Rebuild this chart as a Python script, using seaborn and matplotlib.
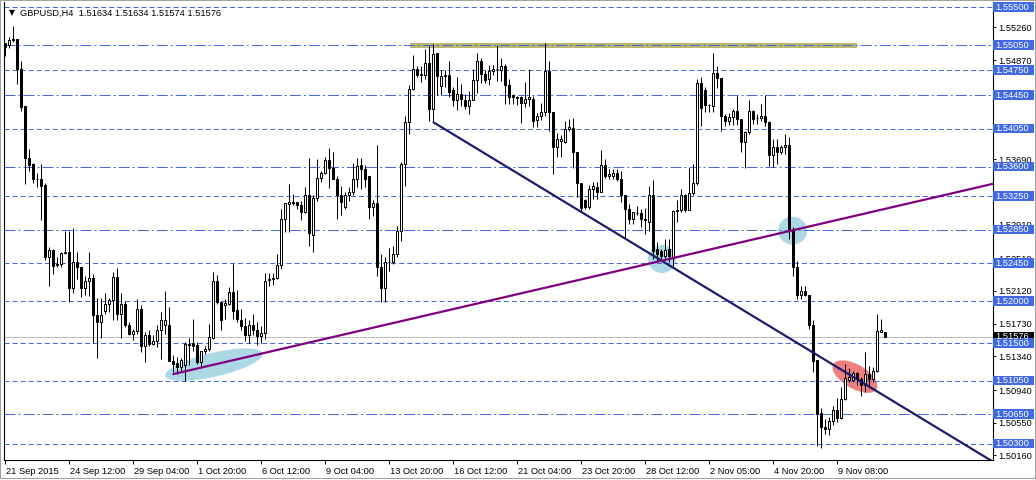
import matplotlib
matplotlib.use("Agg")
import numpy as np
import pandas as pd
import seaborn as sns
import matplotlib.pyplot as plt
import matplotlib.transforms as mtransforms
from matplotlib.patches import Ellipse, Rectangle

# ---- data (GBPUSD H4) ----
symbol = "GBPUSD,H4"

opens = [
    1.5507, 1.5505, 1.5511, 1.5512, 1.5477, 1.5432, 1.5371, 1.5363, 1.5345, 1.5345,
    1.5338, 1.5253, 1.5261, 1.5243, 1.5244, 1.5257, 1.5259, 1.5216, 1.5246, 1.5240,
    1.5216, 1.5224, 1.5228, 1.5183, 1.5175, 1.5188, 1.5197, 1.5201, 1.5229, 1.5184,
    1.5197, 1.5172, 1.5161, 1.5164, 1.5191, 1.5146, 1.5160, 1.5149, 1.5152, 1.5165,
    1.5172, 1.5172, 1.5129, 1.5126, 1.5122, 1.5124, 1.5148, 1.5150, 1.5148, 1.5127,
    1.5140, 1.5143, 1.5156, 1.5224, 1.5199, 1.5195, 1.5197, 1.5211, 1.5189, 1.5178,
    1.5170, 1.5160, 1.5172, 1.5165, 1.5158, 1.5162, 1.5225, 1.5226, 1.5227, 1.5243,
    1.5298, 1.5316, 1.5317, 1.5318, 1.5314, 1.5306, 1.5326, 1.5279, 1.5323, 1.5347,
    1.5353, 1.5368, 1.5359, 1.5345, 1.5326, 1.5312, 1.5326, 1.5330, 1.5346, 1.5362,
    1.5357, 1.5349, 1.5312, 1.5317, 1.5241, 1.5216, 1.5246, 1.5247, 1.5256, 1.5283,
    1.5363, 1.5413, 1.5453, 1.5476, 1.5469, 1.5469, 1.5484, 1.5429, 1.5495, 1.5456,
    1.5468, 1.5469, 1.5451, 1.5440, 1.5447, 1.5440, 1.5432, 1.5440, 1.5463, 1.5486,
    1.5470, 1.5464, 1.5474, 1.5476, 1.5475, 1.5480, 1.5457, 1.5445, 1.5443, 1.5443,
    1.5436, 1.5441, 1.5441, 1.5416, 1.5420, 1.5425, 1.5474, 1.5425, 1.5383, 1.5391,
    1.5389, 1.5405, 1.5406, 1.5378, 1.5341, 1.5320, 1.5312, 1.5334, 1.5336, 1.5330,
    1.5362, 1.5349, 1.5349, 1.5353, 1.5345, 1.5326, 1.5310, 1.5298, 1.5305, 1.5305,
    1.5298, 1.5294, 1.5326, 1.5262, 1.5260, 1.5254, 1.5262, 1.5252, 1.5307, 1.5308,
    1.5326, 1.5309, 1.5329, 1.5341, 1.5460, 1.5451, 1.5434, 1.5432, 1.5472, 1.5466,
    1.5420, 1.5415, 1.5419, 1.5426, 1.5417, 1.5389, 1.5402, 1.5426, 1.5418, 1.5418,
    1.5420, 1.5413, 1.5374, 1.5384, 1.5378, 1.5383, 1.5386, 1.5286, 1.5240, 1.5207,
    1.5212, 1.5207, 1.5171, 1.5130, 1.5067, 1.5050, 1.5048, 1.5057, 1.5070, 1.5061,
    1.5083, 1.5106, 1.5106, 1.5114, 1.5107, 1.5100, 1.5113, 1.5107, 1.5117, 1.5163,
    1.51634,
]
highs = [
    1.5508, 1.5515, 1.5528, 1.5512, 1.5486, 1.5432, 1.5381, 1.5364, 1.5353, 1.5363,
    1.5341, 1.5264, 1.5262, 1.5252, 1.5259, 1.5284, 1.5284, 1.5287, 1.5258, 1.5240,
    1.5230, 1.5259, 1.5232, 1.5204, 1.5204, 1.5209, 1.5204, 1.5235, 1.5239, 1.5210,
    1.5200, 1.5175, 1.5167, 1.5203, 1.5195, 1.5163, 1.5165, 1.5159, 1.5171, 1.5187,
    1.5212, 1.5193, 1.5136, 1.5133, 1.5132, 1.5151, 1.5156, 1.5179, 1.5151, 1.5141,
    1.5146, 1.5173, 1.5235, 1.5231, 1.5200, 1.5203, 1.5217, 1.5244, 1.5213, 1.5190,
    1.5180, 1.5178, 1.5185, 1.5175, 1.5170, 1.5234, 1.5234, 1.5234, 1.5256, 1.5310,
    1.5317, 1.5339, 1.5328, 1.5318, 1.5319, 1.5336, 1.5370, 1.5326, 1.5369, 1.5355,
    1.5372, 1.5382, 1.5378, 1.5349, 1.5337, 1.5330, 1.5336, 1.5364, 1.5371, 1.5371,
    1.5362, 1.5349, 1.5320, 1.5386, 1.5256, 1.5252, 1.5263, 1.5266, 1.5290, 1.5366,
    1.5420, 1.5457, 1.5493, 1.5480, 1.5480, 1.5500, 1.5504, 1.5506, 1.5495, 1.5475,
    1.5475, 1.5486, 1.5455, 1.5467, 1.5459, 1.5447, 1.5450, 1.5476, 1.5496, 1.5490,
    1.5475, 1.5481, 1.5481, 1.5505, 1.5489, 1.5482, 1.5465, 1.5447, 1.5444, 1.5444,
    1.5461, 1.5476, 1.5444, 1.5424, 1.5436, 1.5508, 1.5486, 1.5425, 1.5400, 1.5398,
    1.5415, 1.5417, 1.5418, 1.5378, 1.5341, 1.5322, 1.5338, 1.5342, 1.5342, 1.5380,
    1.5369, 1.5357, 1.5357, 1.5357, 1.5355, 1.5326, 1.5316, 1.5306, 1.5313, 1.5310,
    1.5311, 1.5337, 1.5344, 1.5270, 1.5262, 1.5274, 1.5274, 1.5308, 1.5320, 1.5334,
    1.5328, 1.5358, 1.5363, 1.5465, 1.5467, 1.5455, 1.5435, 1.5496, 1.5480, 1.5466,
    1.5423, 1.5424, 1.5429, 1.5444, 1.5417, 1.5403, 1.5439, 1.5428, 1.5423, 1.5435,
    1.5445, 1.5414, 1.5393, 1.5393, 1.5386, 1.5399, 1.5395, 1.5288, 1.5248, 1.5218,
    1.5218, 1.5207, 1.5177, 1.5130, 1.5072, 1.5060, 1.5062, 1.5075, 1.5084, 1.5098,
    1.5125, 1.5120, 1.5117, 1.5116, 1.5110, 1.5139, 1.5123, 1.5122, 1.5185, 1.5179,
    1.51634,
]
lows = [
    1.5492, 1.5502, 1.5509, 1.5459, 1.5427, 1.5339, 1.5355, 1.5341, 1.5336, 1.5296,
    1.5249, 1.5218, 1.5232, 1.5240, 1.5240, 1.5256, 1.5199, 1.5210, 1.5226, 1.5205,
    1.5207, 1.5206, 1.5150, 1.5132, 1.5156, 1.5184, 1.5187, 1.5177, 1.5177, 1.5156,
    1.5169, 1.5160, 1.5154, 1.5161, 1.5139, 1.5127, 1.5146, 1.5148, 1.5145, 1.5131,
    1.5161, 1.5129, 1.5115, 1.5113, 1.5115, 1.5105, 1.5124, 1.5140, 1.5125, 1.5123,
    1.5137, 1.5141, 1.5155, 1.5197, 1.5166, 1.5179, 1.5195, 1.5179, 1.5175, 1.5165,
    1.5152, 1.5150, 1.5160, 1.5148, 1.5150, 1.5155, 1.5218, 1.5219, 1.5226, 1.5238,
    1.5282, 1.5282, 1.5315, 1.5310, 1.5296, 1.5305, 1.5265, 1.5259, 1.5319, 1.5342,
    1.5351, 1.5335, 1.5345, 1.5298, 1.5303, 1.5310, 1.5319, 1.5326, 1.5336, 1.5333,
    1.5336, 1.5298, 1.5301, 1.5230, 1.5199, 1.5199, 1.5236, 1.5244, 1.5252, 1.5272,
    1.5337, 1.5399, 1.5452, 1.5467, 1.5461, 1.5465, 1.5414, 1.5414, 1.5445, 1.5445,
    1.5455, 1.5443, 1.5432, 1.5428, 1.5432, 1.5429, 1.5423, 1.5439, 1.5448, 1.5460,
    1.5460, 1.5458, 1.5469, 1.5462, 1.5462, 1.5435, 1.5435, 1.5435, 1.5434, 1.5412,
    1.5431, 1.5432, 1.5407, 1.5407, 1.5416, 1.5421, 1.5403, 1.5351, 1.5372, 1.5372,
    1.5388, 1.5403, 1.5359, 1.5324, 1.5307, 1.5310, 1.5310, 1.5321, 1.5321, 1.5330,
    1.5347, 1.5345, 1.5345, 1.5343, 1.5318, 1.5276, 1.5292, 1.5292, 1.5302, 1.5288,
    1.5280, 1.5284, 1.5250, 1.5248, 1.5248, 1.5250, 1.5246, 1.5242, 1.5294, 1.5306,
    1.5306, 1.5309, 1.5326, 1.5338, 1.5409, 1.5425, 1.5425, 1.5425, 1.5454, 1.5403,
    1.5408, 1.5410, 1.5410, 1.5410, 1.5378, 1.5358, 1.5399, 1.5411, 1.5411, 1.5414,
    1.5408, 1.5361, 1.5360, 1.5363, 1.5375, 1.5375, 1.5274, 1.5230, 1.5203, 1.5203,
    1.5206, 1.5167, 1.5115, 1.5027, 1.5025, 1.5041, 1.5040, 1.5052, 1.5056, 1.5060,
    1.5082, 1.5104, 1.5104, 1.5100, 1.5087, 1.5092, 1.5096, 1.5103, 1.5115, 1.5163,
    1.51574,
]
closes = [
    1.5503, 1.5511, 1.5512, 1.5476, 1.5431, 1.5371, 1.5362, 1.5345, 1.5345, 1.5337,
    1.5253, 1.5261, 1.5242, 1.5244, 1.5257, 1.5259, 1.5216, 1.5246, 1.5240, 1.5216,
    1.5224, 1.5228, 1.5183, 1.5175, 1.5183, 1.5197, 1.5201, 1.5229, 1.5184, 1.5197,
    1.5171, 1.5161, 1.5164, 1.5191, 1.5146, 1.5160, 1.5149, 1.5152, 1.5165, 1.5177,
    1.5177, 1.5129, 1.5125, 1.5122, 1.5130, 1.5149, 1.5149, 1.5147, 1.5127, 1.5141,
    1.5143, 1.5157, 1.5224, 1.5199, 1.5177, 1.5198, 1.5211, 1.5188, 1.5179, 1.5170,
    1.5160, 1.5172, 1.5165, 1.5158, 1.5162, 1.5224, 1.5226, 1.5227, 1.5243, 1.5298,
    1.5317, 1.5318, 1.5318, 1.5314, 1.5306, 1.5326, 1.5281, 1.5323, 1.5347, 1.5353,
    1.5368, 1.5359, 1.5345, 1.5326, 1.5318, 1.5326, 1.5330, 1.5346, 1.5361, 1.5357,
    1.5346, 1.5312, 1.5317, 1.5241, 1.5216, 1.5246, 1.5247, 1.5256, 1.5283, 1.5363,
    1.5413, 1.5453, 1.5476, 1.5469, 1.5470, 1.5484, 1.5429, 1.5494, 1.5468, 1.5468,
    1.5469, 1.5449, 1.5440, 1.5447, 1.5441, 1.5432, 1.5440, 1.5463, 1.5486, 1.5470,
    1.5463, 1.5474, 1.5476, 1.5476, 1.5480, 1.5457, 1.5443, 1.5443, 1.5442, 1.5436,
    1.5441, 1.5443, 1.5415, 1.5420, 1.5425, 1.5474, 1.5425, 1.5383, 1.5393, 1.5393,
    1.5405, 1.5407, 1.5378, 1.5341, 1.5311, 1.5312, 1.5334, 1.5337, 1.5330, 1.5362,
    1.5349, 1.5351, 1.5353, 1.5345, 1.5326, 1.5310, 1.5298, 1.5306, 1.5305, 1.5298,
    1.5296, 1.5326, 1.5260, 1.5256, 1.5254, 1.5261, 1.5254, 1.5307, 1.5309, 1.5326,
    1.5309, 1.5329, 1.5341, 1.5460, 1.5430, 1.5434, 1.5433, 1.5472, 1.5466, 1.5420,
    1.5415, 1.5419, 1.5426, 1.5417, 1.5389, 1.5402, 1.5426, 1.5417, 1.5418, 1.5420,
    1.5413, 1.5374, 1.5384, 1.5378, 1.5383, 1.5386, 1.5286, 1.5240, 1.5207, 1.5212,
    1.5207, 1.5171, 1.5129, 1.5066, 1.5050, 1.5048, 1.5057, 1.5070, 1.5061, 1.5083,
    1.5108, 1.5109, 1.5114, 1.5107, 1.5100, 1.5113, 1.5107, 1.5117, 1.5164, 1.5165,
    1.51576,
]

date_labels = ["21 Sep 2015", "24 Sep 12:00", "29 Sep 04:00", "1 Oct 20:00",
               "6 Oct 12:00", "9 Oct 04:00", "13 Oct 20:00", "16 Oct 12:00",
               "21 Oct 04:00", "23 Oct 20:00", "28 Oct 12:00", "2 Nov 05:00",
               "4 Nov 20:00", "9 Nov 08:00"]
bars_per_label = 16

price_ticks = [1.55260, 1.54870, 1.54470, 1.54080, 1.53690, 1.53280, 1.52910,
               1.52510, 1.52120, 1.51730, 1.51340, 1.50940, 1.50550, 1.50160]

# horizontal levels drawn by hand on the chart
levels_dashdot = [1.5505, 1.5445, 1.5360, 1.5285, 1.5065]
levels_dash = [1.5550, 1.5475, 1.5405, 1.5325, 1.5245, 1.5200, 1.5150, 1.5105, 1.5030]

# resistance band (bars, prices)
band_bars = [101.2, 213.0]
band_prices = [1.55012, 1.55078]

# trend lines: two points each (bar, price)
down_bars = [107.1, 221.25]
down_prices = [1.5413, 1.5083]
up_bars = [42.1, 221.25]
up_prices = [1.5113, 1.53112]

# highlight marks: (bar, price, width px, height px, angle deg)
blue_marks = [(52.25, 1.51242, 100, 24, 13), (164.25, 1.52501, 28, 28, 0),
              (196.9, 1.52838, 29, 28, 0)]
red_marks = [(212.5, 1.51100, 50, 24, -30)]

# ---- style ----
sns.set_style("white")
plt.rcParams["font.family"] = ["Liberation Sans", "DejaVu Sans"]
plt.rcParams["lines.scale_dashes"] = False

level_blue = "#4169E1"
fs = 6.7
px = 0.72  # one pixel in points at dpi 100

fig = plt.figure(figsize=(10.36, 4.80), dpi=100)
ax = fig.add_axes([3.5 / 1036, 20 / 480, 989.5 / 1036, 458 / 480])
ax.set_xlim(-0.375, 247)
ax.set_ylim(1.50106, 1.55563)


def px_at(x, y, trans):
    # pixel-sized shape anchored at a data point
    return mtransforms.IdentityTransform() + mtransforms.ScaledTranslation(x, y, trans)


df = pd.DataFrame({"open": opens, "high": highs, "low": lows, "close": closes})
df["bar"] = np.arange(len(df))
up = df[df.close >= df.open]
dn = df[df.close < df.open]

# band + highlights (under everything)
ax.add_patch(Rectangle((band_bars[0], band_prices[0]), band_bars[1] - band_bars[0],
                       band_prices[1] - band_prices[0], fc="#BDB76B", ec="none", zorder=0.5))
for b, p, w, h, a in blue_marks:
    ax.add_patch(Ellipse((0, 0), w, h, angle=a, fc="#ADD8E6", ec="none", zorder=0.6,
                         transform=px_at(b, p, ax.transData)))
for b, p, w, h, a in red_marks:
    ax.add_patch(Ellipse((0, 0), w, h, angle=a, fc="#F08080", ec="none", zorder=0.6,
                         transform=px_at(b, p, ax.transData)))

# levels
for lv in levels_dashdot:
    ax.axhline(lv, color=level_blue, lw=px, dashes=(7.9, 2.2, 1.4, 2.2), zorder=1)
for lv in levels_dash:
    ax.axhline(lv, color=level_blue, lw=px, dashes=(3.6, 2.2), zorder=1)
ax.axhline(closes[-1], color="#C0C0C0", lw=px, zorder=1)

# candles: 1px wicks, 3px bodies (hollow when up)
ax.vlines(df.bar, df.low, df.high, color="black", lw=px, zorder=3)
ax.bar(up.bar, up.close - up.open, bottom=up.open, width=0.5, color="white",
       edgecolor="black", lw=px, zorder=3.5)
ax.bar(dn.bar, dn.open - dn.close, bottom=dn.close, width=0.5, color="black",
       edgecolor="black", lw=px, zorder=3.5)

# trend lines (rays to the right)
slope_dn = (down_prices[1] - down_prices[0]) / (down_bars[1] - down_bars[0])
slope_up = (up_prices[1] - up_prices[0]) / (up_bars[1] - up_bars[0])
sns.lineplot(x=[down_bars[0], 260], y=[down_prices[0], down_prices[0] + slope_dn * (260 - down_bars[0])],
             color="#1C1C6E", lw=1.6, ax=ax, zorder=4)
sns.lineplot(x=[up_bars[0], 260], y=[up_prices[0], up_prices[0] + slope_up * (260 - up_bars[0])],
             color="#800080", lw=1.6, ax=ax, zorder=4)

# axes look
for s in ["left", "bottom", "right"]:
    ax.spines[s].set_color("black")
    ax.spines[s].set_linewidth(0.8)
ax.spines["top"].set_visible(False)

ax.set_xticks(range(0, bars_per_label * len(date_labels), bars_per_label))
ax.set_xticklabels(date_labels)
ax.tick_params(axis="x", length=3, width=0.7, pad=2, labelsize=fs, colors="black", bottom=True)
shift = mtransforms.ScaledTranslation(1 / 100, 0, fig.dpi_scale_trans)
for lab in ax.get_xticklabels():
    lab.set_horizontalalignment("left")
    lab.set_transform(lab.get_transform() + shift)

ax.yaxis.tick_right()
ax.set_yticks(price_ticks)
ax.set_yticklabels([f"{v:.5f}" for v in price_ticks])
ax.tick_params(axis="y", length=2.2, width=0.7, pad=1.5, labelsize=fs, colors="black",
               right=True, left=False)
ax.set_xlabel("")
ax.set_ylabel("")

# price labels on the right axis
blend = mtransforms.blended_transform_factory(ax.transAxes, ax.transData)


def price_tag(val, fc):
    ax.add_patch(Rectangle((0, -4.5), 41, 9.5, fc=fc, ec="none", clip_on=False, zorder=6,
                           transform=px_at(1.0, val, blend)))
    ax.text(2, 0, f"{val:.5f}", color="white", fontsize=fs, ha="left", va="center",
            transform=px_at(1.0, val, blend), clip_on=False, zorder=7)


price_tag(closes[-1], "black")
for lv in sorted(levels_dashdot + levels_dash, reverse=True):
    price_tag(lv, level_blue)

# header
fig.text(9 / 1036, 1 - 13 / 480, "\u25bc", fontsize=5.5, va="center", ha="left", color="black",
         family="DejaVu Sans")
fig.text(20.5 / 1036, 1 - 13 / 480,
         f"{symbol}  {opens[-1]:.5f} {highs[-1]:.5f} {lows[-1]:.5f} {closes[-1]:.5f}",
         fontsize=fs, va="center", ha="left", color="black")

# thin window frame like the terminal
fig.add_artist(Rectangle((0, 2 / 480), 1 - 1 / 1036, 1 - 2 / 480, transform=fig.transFigure,
                         fill=False, ec="#A0A0A0", lw=px))

fig.savefig("out.png", dpi=100, facecolor="white")
